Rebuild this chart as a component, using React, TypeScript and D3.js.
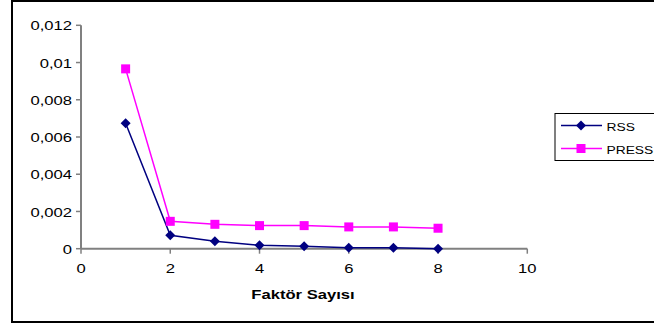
import React from "react";
import * as d3 from "d3";

const factors = [1, 2, 3, 4, 5, 6, 7, 8];
const rss = [0.00674, 0.00072, 0.0004, 0.00018, 0.00013, 0.00005, 0.00005, 0.0];
const press = [0.00966, 0.00147, 0.00131, 0.00124, 0.00124, 0.00117, 0.00117, 0.0011];
const yTicks = [0, 0.002, 0.004, 0.006, 0.008, 0.01, 0.012];
const xTicks = [0, 2, 4, 6, 8, 10];
const seriesNames = ["RSS", "PRESS"];
const seriesColors = ["#000080", "#FF00FF"];
const xTitle = "Faktör Sayısı";

const fmt = (v: number) => String(v).replace(".", ",");
const font = "Liberation Sans, Arial, sans-serif";

function T(props: { x: number; y: number; anchor?: string; bold?: boolean; size?: number; sx?: number; children: React.ReactNode }) {
  const { x, y, anchor = "start", bold = false, size = 12.5, sx = 1.33, children } = props;
  return (
    <text
      transform={`translate(${x},${y}) scale(${sx},1)`}
      textAnchor={anchor}
      dy="0.35em"
      fontFamily={font}
      fontSize={size}
      fontWeight={bold ? "bold" : "normal"}
      fill="#000"
    >
      {children}
    </text>
  );
}

export default function App() {
  const W = 654, H = 326;
  const x = d3.scaleLinear().domain([0, 10]).range([81, 527.3]);
  const y = d3.scaleLinear().domain([0, 0.012]).range([248.7, 25.3]);
  const line = d3.line<[number, number]>().x(d => x(d[0])).y(d => y(d[1]));
  const data = [rss, press];

  const marker = (i: number, cx: number, cy: number, key: string) =>
    i === 0 ? (
      <path key={key} d={`M${cx},${cy - 5}L${cx + 5},${cy}L${cx},${cy + 5}L${cx - 5},${cy}Z`} fill={seriesColors[0]} />
    ) : (
      <rect key={key} x={cx - 4.5} y={cy - 4.5} width={9} height={9} fill={seriesColors[1]} />
    );

  return (
    <svg width={W} height={H} style={{ position: "absolute", left: 0, top: 0 }}>
      <rect x={0} y={0} width={W} height={H} fill="#fff" />
      <rect x={12} y={1} width={700} height={321} fill="none" stroke="#000" strokeWidth={2} />
      <line x1={x(0)} x2={x(0)} y1={y(0.012)} y2={y(0)} stroke="#808080" strokeWidth={2} />
      <line x1={x(0)} x2={x(10)} y1={y(0)} y2={y(0)} stroke="#808080" strokeWidth={2} />
      {yTicks.map(t => (
        <g key={"y" + t}>
          <line x1={x(0) - 5} x2={x(0)} y1={y(t)} y2={y(t)} stroke="#808080" strokeWidth={1.5} />
          <T x={x(0) - 9} y={y(t) + 0.8} anchor="end">{fmt(t)}</T>
        </g>
      ))}
      {xTicks.map(t => (
        <g key={"x" + t}>
          <line x1={x(t)} x2={x(t)} y1={y(0)} y2={y(0) + 5} stroke="#808080" strokeWidth={1.5} />
          <T x={x(t)} y={y(0) + 20} anchor="middle">{t}</T>
        </g>
      ))}
      <T x={303} y={295} anchor="middle" bold>{xTitle}</T>
      {data.map((s, i) => (
        <g key={"s" + i}>
          <path d={line(factors.map((f, j) => [f, s[j]] as [number, number])) || ""} fill="none" stroke={seriesColors[i]} strokeWidth={1.5} />
          {factors.map((f, j) => marker(i, x(f), y(s[j]), `m${i}-${j}`))}
        </g>
      ))}
      <rect x={555} y={113.5} width={120} height={47} fill="#fff" stroke="#000" strokeWidth={1} />
      {seriesNames.map((n, i) => {
        const ly = 125.5 + i * 23;
        return (
          <g key={"l" + i}>
            <line x1={561} x2={602} y1={ly} y2={ly} stroke={seriesColors[i]} strokeWidth={1.5} />
            {marker(i, 581, ly, "lm" + i)}
            <T x={606.5} y={ly + 1} size={11.5} sx={1.2}>{n}</T>
          </g>
        );
      })}
    </svg>
  );
}
